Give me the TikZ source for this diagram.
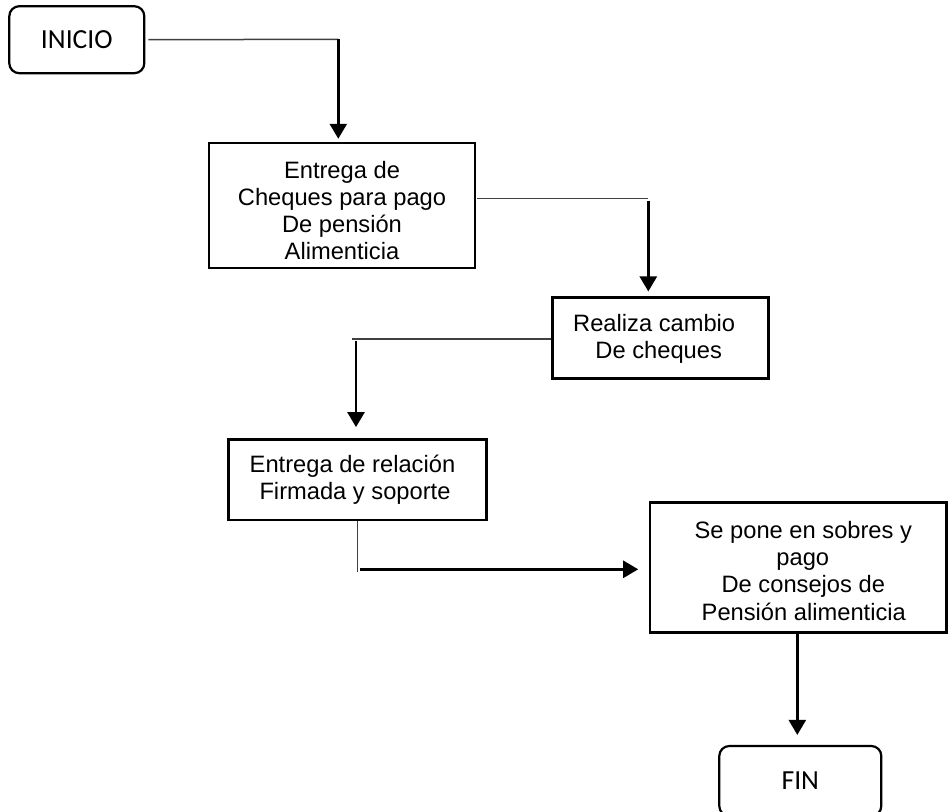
\documentclass[tikz,border=0pt]{standalone}
\usepackage{fontspec}
\setmainfont{Liberation Sans}
\newfontfamily\calibfont{Carlito}
\usetikzlibrary{arrows.meta,calc}

\tikzset{
  procbox/.style={draw=black, line width=2.5pt, rectangle, inner sep=0pt},
  proctext/.style={align=center, inner sep=0pt,
    font=\fontsize{23.7}{27.3}\selectfont},
  termbox/.style={draw=black, line width=2.2pt, rounded corners=10pt,
    inner sep=0pt, font=\calibfont\fontsize{27.6}{30}\selectfont},
  thinline/.style={draw=black!75, line width=1.5pt},
  flowarrow/.style={draw=black, line width=2.6pt,
    -{Triangle[length=15pt,width=17pt]}},
}

\begin{document}
\begin{tikzpicture}[x=1pt,y=-1pt]
  \useasboundingbox (0,0) rectangle (950,811);
  \clip (0,0) rectangle (950,811);

  % start and end terminals
  \node[termbox, minimum width=135pt, minimum height=67pt] (inicio) at (76.8,39.7) {INICIO};
  \node[termbox, minimum width=162pt, minimum height=70pt] (fin) at (800.3,781) {FIN};

  % process steps: frames
  \node[procbox, minimum width=266pt, minimum height=125pt] (b1) at (342,205.5) {};
  \node[procbox, minimum width=216pt, minimum height=80.6pt] (b2) at (660.7,338) {};
  \node[procbox, minimum width=258.4pt, minimum height=80.7pt] (b3) at (357.5,479.7) {};
  \node[procbox, minimum width=296.7pt, minimum height=130pt] (b4) at (798.3,567.7) {};

  % process steps: texts
  \node[proctext] (t1) at ([yshift=-5pt]b1.center)
    {Entrega de\\Cheques para pago\\De pensión\\Alimenticia};
  \node[proctext] (t2) at ([yshift=-1pt]b2.center)
    {Realiza cambio\hspace*{13pt}\\De cheques\hspace*{4pt}};
  \node[proctext] (t3) at (b3.center)
    {Entrega de relación\hspace*{10pt}\\Firmada y soporte\hspace*{5pt}};
  \node[proctext] (t4) at ([yshift=-3pt]b4.center)
    {\hspace*{10pt}Se pone en sobres y\\\hspace*{9pt}pago\\\hspace*{10pt}De consejos de\\\hspace*{11pt}Pensión alimenticia};

  % bend points of the connectors
  \coordinate (k1) at (338.3,39.3);
  \coordinate (k2) at (648.3,198.3);
  \coordinate (k2b) at (648.3,200.7);
  \coordinate (k3) at (352.3,339);
  \coordinate (k3b) at (356,340.7);
  \coordinate (k4) at (357.7,571.7);
  \coordinate (k4b) at (360,569.3);
  \coordinate (k5) at (797.3,633.3);

  % INICIO -> b1
  \draw[thinline] ([xshift=3pt]inicio.east) -- (k1);
  \draw[flowarrow, shorten >=3pt] (k1) -- (k1 |- b1.north);

  % b1 -> b2
  \draw[thinline] ([xshift=1pt]b1.east |- k2) -- (k2);
  \draw[flowarrow, shorten >=5pt] (k2b) -- (k2b |- b2.north);

  % b2 -> b3
  \draw[thinline] (b2.west |- k3) -- (k3);
  \draw[flowarrow, shorten >=11pt] (k3b) -- (k3b |- b3.north);

  % b3 -> b4
  \draw[thinline] (b3.south -| k4) -- (k4);
  \draw[flowarrow, shorten >=10.5pt] (k4b) -- (k4b -| b4.west);

  % b4 -> FIN
  \draw[flowarrow, shorten >=10pt] (k5) -- (k5 |- fin.north);
\end{tikzpicture}
\end{document}
